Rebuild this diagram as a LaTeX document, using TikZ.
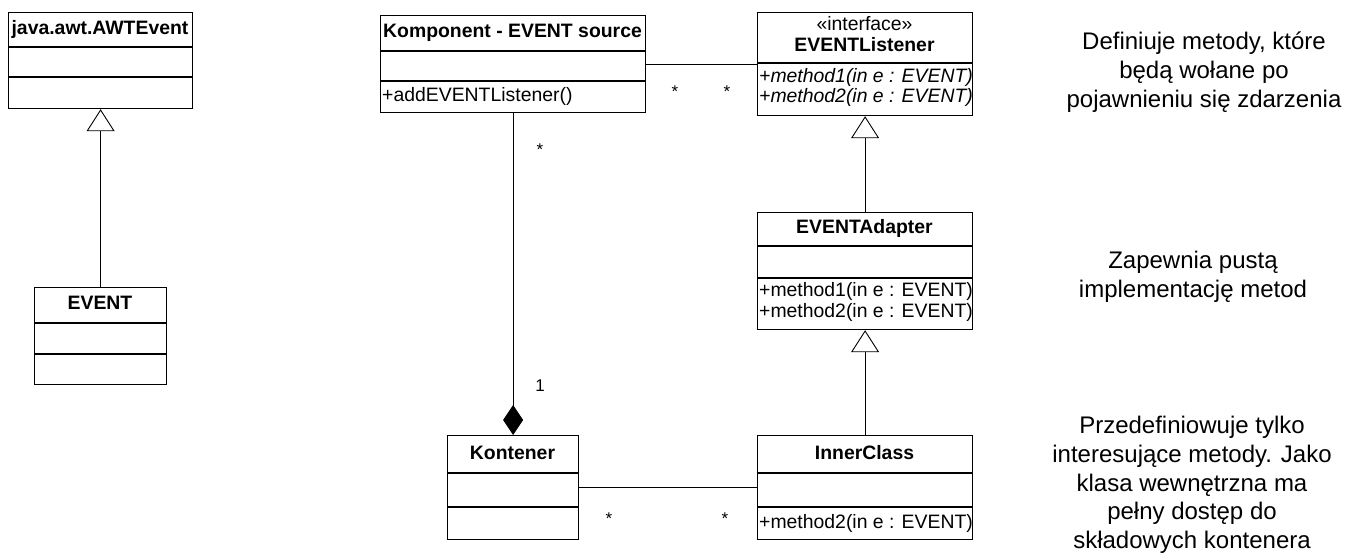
\documentclass[tikz,border=0pt]{standalone}
\usepackage{fontspec}
\setmainfont{Liberation Sans}
\usetikzlibrary{calc,arrows.meta}
\begin{document}
\begin{tikzpicture}[x=1pt,y=-1pt,
  classbox/.style={draw, line width=1.2pt, inner sep=0pt, anchor=north west},
  divline/.style={line width=1.2pt},
  ttl/.style={font=\fontsize{19.4}{22}\selectfont\bfseries, inner sep=0pt, text height=14pt, text depth=4pt},
  plain/.style={font=\fontsize{19.4}{22}\selectfont, inner sep=0pt, text height=14pt, text depth=4pt},
  mth/.style={font=\fontsize{19.4}{22}\selectfont, inner sep=0pt, text height=14pt, text depth=4pt, anchor=west},
  imth/.style={mth, font=\fontsize{19.4}{22}\selectfont\itshape},
  note/.style={font=\fontsize{24}{28.7}\selectfont, align=center, inner sep=0pt},
  mult/.style={font=\fontsize{17}{20}\selectfont, inner sep=0pt},
  conn/.style={line width=0.9pt},
  gen/.style={conn, -{Triangle[open, length=22pt, width=28pt, line width=0.9pt]}},
  comp/.style={conn, -{Diamond[length=30pt, width=20pt]}}
]
\useasboundingbox (0,0) rectangle (1360,553);

% java.awt.AWTEvent
\node[classbox, minimum width=184pt, minimum height=96pt] (awt) at (8,12) {};
\draw[divline] ($(awt.north west)+(0,35)$) -- ($(awt.north east)+(0,35)$);
\draw[divline] ($(awt.north west)+(0,65)$) -- ($(awt.north east)+(0,65)$);
\node[ttl] (awtT) at (100,29.5) {java.awt.AWTEvent};

% EVENT
\node[classbox, minimum width=132pt, minimum height=97pt] (event) at (34,287) {};
\draw[divline] ($(event.north west)+(0,36)$) -- ($(event.north east)+(0,36)$);
\draw[divline] ($(event.north west)+(0,67)$) -- ($(event.north east)+(0,67)$);
\node[ttl] (eventT) at (100,305) {EVENT};

% Komponent
\node[classbox, minimum width=265pt, minimum height=97pt] (komp) at (380,15) {};
\draw[divline] ($(komp.north west)+(0,36)$) -- ($(komp.north east)+(0,36)$);
\draw[divline] ($(komp.north west)+(0,66)$) -- ($(komp.north east)+(0,66)$);
\node[ttl] (kompT) at (512.5,33) {Komponent - EVENT source};
\node[mth] (kompM) at (382,96.5) {+addEVENTListener()};

% EVENTListener
\node[classbox, minimum width=215pt, minimum height=103pt] (listener) at (757,12) {};
\draw[divline] ($(listener.north west)+(0,51)$) -- ($(listener.north east)+(0,51)$);
\node[plain] (listS) at (864.5,26) {«interface»};
\node[ttl] (listT) at (864.5,47) {EVENTListener};
\node[imth] (listM1) at (759,78) {+method1(in e : EVENT)};
\node[imth] (listM2) at (759,98) {+method2(in e : EVENT)};

% EVENTAdapter
\node[classbox, minimum width=215pt, minimum height=117pt] (adapter) at (757,212) {};
\draw[divline] ($(adapter.north west)+(0,34)$) -- ($(adapter.north east)+(0,34)$);
\draw[divline] ($(adapter.north west)+(0,66)$) -- ($(adapter.north east)+(0,66)$);
\node[ttl] (adT) at (864.5,229) {EVENTAdapter};
\node[mth] (adM1) at (759,292) {+method1(in e : EVENT)};
\node[mth] (adM2) at (759,313) {+method2(in e : EVENT)};

% Kontener
\node[classbox, minimum width=131pt, minimum height=104pt] (kont) at (447,435) {};
\draw[divline] ($(kont.north west)+(0,38)$) -- ($(kont.north east)+(0,38)$);
\draw[divline] ($(kont.north west)+(0,72)$) -- ($(kont.north east)+(0,72)$);
\node[ttl] (kontT) at (512.5,454) {Kontener};

% InnerClass
\node[classbox, minimum width=215pt, minimum height=104pt] (inner) at (757,435) {};
\draw[divline] ($(inner.north west)+(0,38)$) -- ($(inner.north east)+(0,38)$);
\draw[divline] ($(inner.north west)+(0,72)$) -- ($(inner.north east)+(0,72)$);
\node[ttl] (innerT) at (864.5,454) {InnerClass};
\node[mth] (innerM) at (759,523) {+method2(in e : EVENT)};

% connectors
\draw[gen] (event.north) -- (awt.south);
\draw[gen] (adapter.north) -- (listener.south);
\draw[gen] (inner.north) -- (adapter.south);
\draw[comp] (komp.south) -- (kont.north);
\draw[conn] (komp.east) -- (komp.east -| listener.west);
\draw[conn] (kont.east) -- (kont.east -| inner.west);

% multiplicities
\node[mult] (m1) at (675,92) {*};
\node[mult] (m2) at (727,92) {*};
\node[mult] (m3) at (540,150) {*};
\node[mult] (m4) at (540,386) {1};
\node[mult] (m5) at (609,519) {*};
\node[mult] (m6) at (725,519) {*};

% notes
\node[note] (n1) at (1204,72) {Definiuje metody, które\\będą wołane po\\pojawnieniu się zdarzenia};
\node[note] (n2) at (1193,277) {Zapewnia pustą\\implementację metod};
\node[note] (n3) at (1192,485) {Przedefiniowuje tylko\\interesujące metody. Jako\\klasa wewnętrzna ma\\pełny dostęp do\\składowych kontenera};
\end{tikzpicture}
\end{document}
